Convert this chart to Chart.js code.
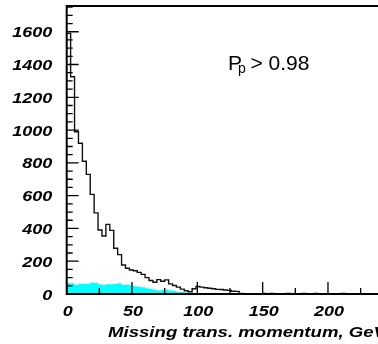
<!DOCTYPE html>
<html>
<head>
<meta charset="utf-8">
<script src="https://cdn.jsdelivr.net/npm/chart.js@4.4.1/dist/chart.umd.min.js"></script>
<style>
  html, body { margin: 0; padding: 0; background: #fff; overflow: hidden; }
  #wrap { width: 378px; height: 344px; overflow: hidden; }
</style>
</head>
<body>
<div id="wrap"><canvas id="chart" width="420" height="344"></canvas></div>
<script>
// histogram, 3 GeV bins starting at 0
const binWidth = 3;

// all events (black outline)
const allEvents = [
  1590, 1325, 990, 920, 810, 730, 608, 495, 390, 354,
  425, 388, 279, 240, 177, 157, 146, 142, 132, 120,
  100, 82, 72, 88, 78, 86, 62, 52, 42, 30,
  20, 14, 32, 46, 42, 38, 35, 32, 28, 27,
  24, 22, 17, 16, 3, 2, 0, 2, 1, 0,
  3, 2, 3, 0, 0, 2, 3, 2, 0, 2,
  3, 1, 0, 3, 2, 2, 0, 1, 0, 2,
  3, 2, 2, 0, 1, 0, 2, 1, 0, 2,
  0, 1, 0
];

// selected events (cyan fill)
const selected = [
  65, 65, 55, 63, 61, 63, 69, 67, 59, 55,
  59, 59, 61, 65, 55, 57, 53, 47, 43, 41,
  35, 30, 26, 22, 24, 28, 22, 18, 14, 12,
  10, 6, 4, 3, 2, 2, 1, 1, 0, 0
];

const xTicks = [0, 50, 100, 150, 200, 250];
const yTicks = [0, 200, 400, 600, 800, 1000, 1200, 1400, 1600];
const xTitle = 'Missing trans. momentum, GeV';

function toSteps(values) {
  const pts = values.map((v, i) => ({ x: i * binWidth, y: v }));
  pts.push({ x: values.length * binWidth, y: 0 });
  return pts;
}

const labelFont = 'italic bold 15px "Liberation Sans", Arial, sans-serif';

function stretchText(ctx, text, px, py, align, sx) {
  ctx.save();
  ctx.translate(px, py);
  ctx.scale(sx, 1);
  ctx.textAlign = align;
  ctx.fillText(text, 0, 0);
  ctx.restore();
}

// ROOT-like frame: inward ticks, stretched bold italic labels
const frame = {
  id: 'frame',
  afterDraw(chart) {
    const { ctx, chartArea: a, scales: { x, y } } = chart;
    ctx.save();
    ctx.strokeStyle = '#000';
    ctx.lineWidth = 2;
    ctx.strokeRect(a.left, a.top, a.right - a.left, a.bottom - a.top);

    ctx.lineWidth = 1.3;
    ctx.beginPath();
    for (let v = 0; v <= y.max; v += 50) {
      const py = y.getPixelForValue(v);
      const len = v % 200 === 0 ? 12 : 6;
      ctx.moveTo(a.left, py);
      ctx.lineTo(a.left + len, py);
    }
    for (let v = 0; v <= x.max; v += 25) {
      const px = x.getPixelForValue(v);
      const len = v % 50 === 0 ? 12 : 6;
      ctx.moveTo(px, a.bottom);
      ctx.lineTo(px, a.bottom - len);
    }
    ctx.stroke();

    ctx.fillStyle = '#000';
    ctx.font = labelFont;
    ctx.textBaseline = 'alphabetic';
    yTicks.forEach(v => {
      stretchText(ctx, String(v), a.left - 14.5, y.getPixelForValue(v) + 5.5, 'right', 1.2);
    });
    xTicks.forEach(v => {
      stretchText(ctx, String(v), x.getPixelForValue(v) + 1, a.bottom + 21.5, 'center', 1.2);
    });
    stretchText(ctx, xTitle, 108, a.bottom + 42.5, 'left', 1.24);

    // cut label
    ctx.font = '21px "Liberation Sans", Arial, sans-serif';
    ctx.textAlign = 'left';
    ctx.fillText('P', 228, 70);
    ctx.fillText('> 0.98', 250.5, 70);
    ctx.font = '14px "Liberation Sans", Arial, sans-serif';
    ctx.fillText('p', 238, 72.5);
    ctx.restore();
  }
};

new Chart(document.getElementById('chart'), {
  type: 'line',
  data: {
    datasets: [
      {
        data: toSteps(allEvents),
        stepped: true,
        borderColor: '#111',
        borderWidth: 1.4,
        fill: false
      },
      {
        data: toSteps(selected),
        stepped: true,
        borderWidth: 0,
        borderColor: 'rgba(0,0,0,0)',
        backgroundColor: '#00ffff',
        fill: 'origin'
      }
    ]
  },
  options: {
    responsive: false,
    animation: false,
    layout: { padding: { left: 66.7, right: 26.7, top: 6, bottom: 50 } },
    elements: { point: { radius: 0 } },
    scales: {
      x: { type: 'linear', min: 0, max: 250, display: false },
      y: { min: 0, max: 1757, display: false }
    },
    plugins: { legend: { display: false }, tooltip: { enabled: false } }
  },
  plugins: [frame]
});
</script>
</body>
</html>
